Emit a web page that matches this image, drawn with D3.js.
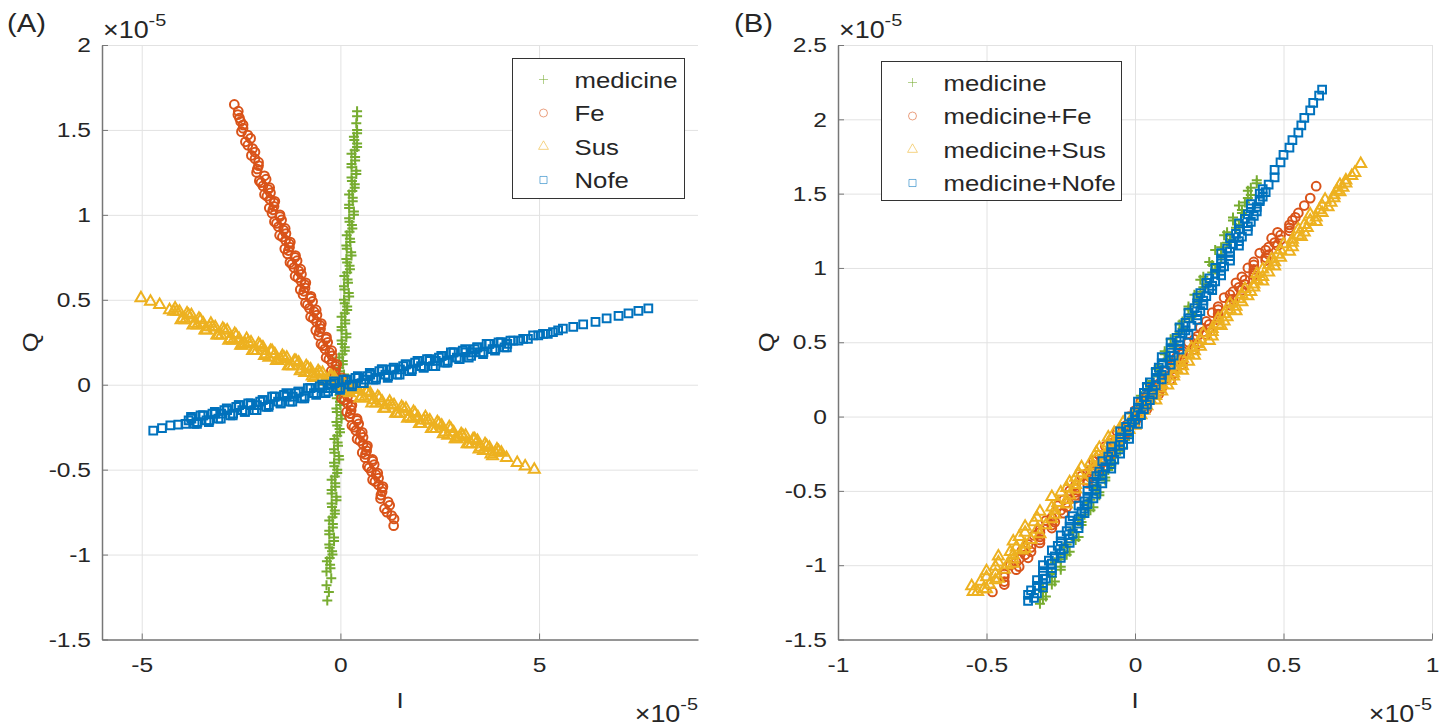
<!DOCTYPE html>
<html>
<head>
<meta charset="utf-8">
<script src="https://cdn.jsdelivr.net/npm/d3@7"></script>
<style>
body { margin: 0; background: #fff; }
svg { display: block; }
</style>
</head>
<body>
<svg id="chart" width="1447" height="728"></svg>
<script>
// values, in units of 1e-5 : [I, Q]
// panel A
const medA = [[-0.33,-1.27],[-0.29,-1.22],[-0.35,-1.18],[-0.23,-1.14],[-0.35,-1.10],[-0.26,-1.06],[-0.27,-1.02],[-0.21,-0.98],[-0.28,-0.94],[-0.16,-0.90],[-0.28,-0.86],[-0.19,-0.82],[-0.20,-0.78],[-0.14,-0.74],[-0.22,-0.70],[-0.10,-0.66],[-0.22,-0.62],[-0.13,-0.58],[-0.14,-0.54],[-0.08,-0.50],[-0.16,-0.46],[-0.04,-0.42],[-0.16,-0.38],[-0.07,-0.34],[-0.08,-0.30],[-0.02,-0.26],[-0.10,-0.22],[0.02,-0.18],[-0.10,-0.14],[-0.01,-0.10],[-0.02,-0.06],[0.05,-0.02],[-0.04,0.02],[0.09,0.06],[-0.03,0.10],[0.06,0.14],[0.05,0.18],[0.11,0.22],[0.03,0.26],[0.15,0.30],[0.03,0.34],[0.12,0.38],[0.11,0.42],[0.17,0.46],[0.09,0.50],[0.21,0.54],[0.09,0.58],[0.18,0.62],[0.17,0.66],[0.23,0.70],[0.15,0.74],[0.27,0.78],[0.15,0.82],[0.24,0.86],[0.23,0.90],[0.29,0.94],[0.22,0.98],[0.34,1.02],[0.22,1.06],[0.31,1.10],[0.30,1.14],[0.36,1.18],[0.28,1.22],[0.40,1.26],[0.28,1.30],[0.37,1.34],[0.36,1.38],[0.42,1.42],[0.34,1.46],[0.42,1.50],[0.40,1.54],[0.42,1.58],[0.42,1.61]];
const medA2 = [[-0.25,-1.08],[-0.34,-1.04],[-0.20,-1.00],[-0.27,-0.96],[-0.16,-0.92],[-0.28,-0.88],[-0.19,-0.84],[-0.28,-0.80],[-0.14,-0.76],[-0.21,-0.72],[-0.10,-0.68],[-0.22,-0.64],[-0.13,-0.60],[-0.22,-0.56],[-0.08,-0.52],[-0.15,-0.48],[-0.03,-0.44],[-0.15,-0.40],[-0.06,-0.36],[-0.15,-0.32],[-0.01,-0.28],[-0.08,-0.24],[0.03,-0.20],[-0.09,-0.16],[0.00,-0.12],[-0.09,-0.08],[0.05,-0.04],[-0.02,0.00],[0.09,0.04],[-0.03,0.08],[0.06,0.12],[-0.03,0.16],[0.11,0.20],[0.04,0.24],[0.15,0.28],[0.03,0.32],[0.12,0.36],[0.03,0.40],[0.17,0.44],[0.11,0.48],[0.22,0.52],[0.10,0.56],[0.19,0.60],[0.10,0.64],[0.24,0.68],[0.17,0.72],[0.28,0.76],[0.16,0.80],[0.25,0.84],[0.16,0.88],[0.30,0.92],[0.23,0.96],[0.34,1.00],[0.22,1.04],[0.31,1.08],[0.22,1.12],[0.36,1.16],[0.29,1.20],[0.40,1.24],[0.28,1.28],[0.37,1.32],[0.28,1.36],[0.42,1.40],[0.35,1.44],[0.42,1.48]];
const feA = [[1.34,-0.83],[1.35,-0.79],[1.17,-0.75],[1.24,-0.71],[1.01,-0.67],[1.05,-0.63],[0.96,-0.59],[0.96,-0.55],[0.78,-0.51],[0.85,-0.47],[0.62,-0.43],[0.66,-0.39],[0.57,-0.35],[0.57,-0.31],[0.39,-0.27],[0.46,-0.23],[0.23,-0.19],[0.27,-0.15],[0.18,-0.11],[0.18,-0.07],[0.00,-0.03],[0.07,0.01],[-0.16,0.05],[-0.12,0.09],[-0.21,0.13],[-0.21,0.17],[-0.39,0.21],[-0.32,0.25],[-0.55,0.29],[-0.50,0.33],[-0.60,0.37],[-0.59,0.41],[-0.78,0.45],[-0.70,0.49],[-0.94,0.53],[-0.89,0.57],[-0.99,0.61],[-0.98,0.65],[-1.17,0.69],[-1.09,0.73],[-1.33,0.77],[-1.28,0.81],[-1.38,0.85],[-1.37,0.89],[-1.56,0.93],[-1.48,0.97],[-1.72,1.01],[-1.67,1.05],[-1.77,1.09],[-1.76,1.13],[-1.95,1.17],[-1.87,1.21],[-2.11,1.25],[-2.06,1.29],[-2.15,1.33],[-2.15,1.37],[-2.33,1.41],[-2.26,1.45],[-2.49,1.49],[-2.45,1.53],[-2.54,1.57],[-2.57,1.61],[-2.67,1.65]];
const feA2 = [[1.29,-0.77],[1.11,-0.73],[1.20,-0.69],[1.02,-0.65],[1.05,-0.61],[0.87,-0.57],[0.90,-0.53],[0.72,-0.49],[0.81,-0.45],[0.63,-0.41],[0.66,-0.37],[0.49,-0.33],[0.51,-0.29],[0.34,-0.25],[0.42,-0.21],[0.25,-0.17],[0.27,-0.13],[0.10,-0.09],[0.12,-0.05],[-0.05,-0.01],[0.03,0.03],[-0.14,0.07],[-0.12,0.11],[-0.29,0.15],[-0.27,0.19],[-0.44,0.23],[-0.36,0.27],[-0.53,0.31],[-0.51,0.35],[-0.68,0.39],[-0.66,0.43],[-0.83,0.47],[-0.75,0.51],[-0.92,0.55],[-0.90,0.59],[-1.07,0.63],[-1.05,0.67],[-1.22,0.71],[-1.14,0.75],[-1.31,0.79],[-1.29,0.83],[-1.46,0.87],[-1.43,0.91],[-1.61,0.95],[-1.52,0.99],[-1.70,1.03],[-1.67,1.07],[-1.85,1.11],[-1.82,1.15],[-2.00,1.19],[-1.91,1.23],[-2.09,1.27],[-2.06,1.31],[-2.24,1.35],[-2.21,1.39],[-2.39,1.43],[-2.33,1.47],[-2.45,1.51],[-2.51,1.55],[-2.58,1.59]];
const feA3 = [[1.07,-0.60],[0.81,-0.56],[0.94,-0.52],[0.68,-0.48],[0.81,-0.44],[0.55,-0.40],[0.68,-0.36],[0.42,-0.32],[0.55,-0.28],[0.29,-0.24],[0.42,-0.20],[0.16,-0.16],[0.29,-0.12],[0.03,-0.08],[0.17,-0.04],[-0.10,0.00],[0.04,0.04],[-0.23,0.08],[-0.09,0.12],[-0.36,0.16],[-0.22,0.20],[-0.49,0.24],[-0.35,0.28],[-0.62,0.32],[-0.48,0.36],[-0.75,0.40],[-0.61,0.44],[-0.88,0.48],[-0.74,0.52],[-1.01,0.56],[-0.87,0.60],[-1.14,0.64],[-1.00,0.68],[-1.27,0.72],[-1.13,0.76],[-1.40,0.80],[-1.26,0.84],[-1.53,0.88],[-1.39,0.92],[-1.66,0.96],[-1.52,1.00],[-1.79,1.04],[-1.65,1.08],[-1.91,1.12],[-1.78,1.16],[-2.04,1.20]];
const susA = [[-5.02,0.51],[-4.78,0.49],[-4.55,0.47],[-4.30,0.44],[-4.20,0.43],[-4.05,0.43],[-3.90,0.38],[-3.75,0.41],[-3.60,0.35],[-3.45,0.36],[-3.30,0.34],[-3.15,0.34],[-3.00,0.29],[-2.85,0.32],[-2.70,0.26],[-2.55,0.27],[-2.40,0.24],[-2.25,0.25],[-2.10,0.20],[-1.95,0.22],[-1.80,0.16],[-1.65,0.18],[-1.50,0.15],[-1.35,0.16],[-1.20,0.11],[-1.05,0.13],[-0.90,0.07],[-0.75,0.09],[-0.60,0.06],[-0.45,0.07],[-0.30,0.02],[-0.15,0.04],[0.00,-0.02],[0.15,-0.01],[0.30,-0.03],[0.45,-0.03],[0.60,-0.08],[0.75,-0.05],[0.90,-0.11],[1.05,-0.10],[1.20,-0.12],[1.35,-0.12],[1.50,-0.17],[1.65,-0.14],[1.80,-0.20],[1.95,-0.19],[2.10,-0.21],[2.25,-0.21],[2.40,-0.26],[2.55,-0.24],[2.70,-0.30],[2.85,-0.28],[3.00,-0.31],[3.15,-0.30],[3.30,-0.35],[3.45,-0.33],[3.60,-0.39],[3.75,-0.37],[3.90,-0.40],[4.05,-0.40],[4.18,-0.43],[4.45,-0.46],[4.65,-0.48],[4.88,-0.50]];
const susA2 = [[-4.12,0.43],[-3.97,0.39],[-3.82,0.41],[-3.67,0.36],[-3.52,0.38],[-3.37,0.32],[-3.22,0.34],[-3.07,0.29],[-2.92,0.32],[-2.77,0.27],[-2.62,0.29],[-2.47,0.23],[-2.32,0.25],[-2.17,0.20],[-2.02,0.23],[-1.87,0.18],[-1.72,0.20],[-1.57,0.14],[-1.42,0.16],[-1.27,0.11],[-1.12,0.14],[-0.97,0.09],[-0.82,0.10],[-0.67,0.04],[-0.52,0.07],[-0.37,0.02],[-0.22,0.05],[-0.07,0.00],[0.08,0.01],[0.23,-0.05],[0.38,-0.02],[0.53,-0.07],[0.68,-0.04],[0.83,-0.09],[0.98,-0.08],[1.13,-0.14],[1.28,-0.12],[1.43,-0.17],[1.58,-0.14],[1.73,-0.19],[1.88,-0.17],[2.03,-0.23],[2.18,-0.21],[2.33,-0.26],[2.48,-0.23],[2.63,-0.28],[2.78,-0.26],[2.93,-0.32],[3.08,-0.30],[3.23,-0.35],[3.38,-0.32],[3.53,-0.37],[3.68,-0.36],[3.83,-0.42],[3.98,-0.39]];
const susA3 = [[-4.16,0.45],[-4.01,0.38],[-3.86,0.42],[-3.71,0.35],[-3.56,0.39],[-3.41,0.32],[-3.26,0.36],[-3.11,0.29],[-2.96,0.33],[-2.81,0.26],[-2.66,0.30],[-2.51,0.23],[-2.36,0.27],[-2.21,0.20],[-2.06,0.24],[-1.91,0.17],[-1.76,0.20],[-1.61,0.14],[-1.46,0.17],[-1.31,0.11],[-1.16,0.14],[-1.01,0.08],[-0.86,0.11],[-0.71,0.05],[-0.56,0.08],[-0.41,0.02],[-0.26,0.05],[-0.11,-0.01],[0.04,0.02],[0.19,-0.04],[0.34,-0.01],[0.49,-0.08],[0.64,-0.04],[0.79,-0.11],[0.94,-0.07],[1.09,-0.14],[1.24,-0.10],[1.39,-0.17],[1.54,-0.13],[1.69,-0.20],[1.84,-0.16],[1.99,-0.23],[2.14,-0.19],[2.29,-0.26],[2.44,-0.22],[2.59,-0.29],[2.74,-0.25],[2.89,-0.32],[3.04,-0.29],[3.19,-0.35],[3.34,-0.32],[3.49,-0.38],[3.64,-0.35],[3.79,-0.41],[3.94,-0.38]];
const nofeA = [[-4.71,-0.27],[-4.49,-0.255],[-4.28,-0.24],[-4.08,-0.235],[-3.90,-0.23],[-3.75,-0.20],[-3.60,-0.22],[-3.45,-0.18],[-3.30,-0.21],[-3.15,-0.17],[-3.00,-0.17],[-2.85,-0.15],[-2.70,-0.17],[-2.55,-0.12],[-2.40,-0.16],[-2.25,-0.12],[-2.10,-0.12],[-1.95,-0.09],[-1.80,-0.12],[-1.65,-0.07],[-1.50,-0.11],[-1.35,-0.07],[-1.20,-0.07],[-1.05,-0.04],[-0.90,-0.07],[-0.75,-0.02],[-0.60,-0.05],[-0.45,-0.02],[-0.30,-0.02],[-0.15,0.01],[0.00,-0.02],[0.15,0.03],[0.30,0.00],[0.45,0.04],[0.60,0.03],[0.75,0.06],[0.90,0.04],[1.05,0.09],[1.20,0.05],[1.35,0.09],[1.50,0.09],[1.65,0.12],[1.80,0.09],[1.95,0.14],[2.10,0.10],[2.25,0.14],[2.40,0.14],[2.55,0.17],[2.70,0.14],[2.85,0.19],[3.00,0.15],[3.15,0.19],[3.30,0.19],[3.45,0.22],[3.60,0.19],[3.75,0.24],[3.90,0.21],[4.05,0.25],[4.20,0.24],[4.35,0.26],[4.60,0.27],[4.85,0.29],[5.10,0.30],[5.35,0.31],[5.60,0.33],[5.86,0.34],[6.11,0.355],[6.42,0.37],[6.70,0.39],[7.00,0.405],[7.25,0.42],[7.50,0.435],[7.75,0.45]];
const nofeA2 = [[-3.82,-0.21],[-3.67,-0.23],[-3.52,-0.18],[-3.37,-0.21],[-3.22,-0.17],[-3.07,-0.20],[-2.92,-0.15],[-2.77,-0.18],[-2.62,-0.13],[-2.47,-0.15],[-2.32,-0.11],[-2.17,-0.15],[-2.02,-0.10],[-1.87,-0.13],[-1.72,-0.07],[-1.57,-0.10],[-1.42,-0.06],[-1.27,-0.10],[-1.12,-0.05],[-0.97,-0.08],[-0.82,-0.02],[-0.67,-0.05],[-0.52,-0.01],[-0.37,-0.05],[-0.22,0.00],[-0.07,-0.02],[0.08,0.03],[0.23,0.00],[0.38,0.04],[0.53,0.01],[0.68,0.05],[0.83,0.03],[0.98,0.08],[1.13,0.06],[1.28,0.09],[1.43,0.06],[1.58,0.11],[1.73,0.08],[1.88,0.13],[2.03,0.11],[2.18,0.15],[2.33,0.11],[2.48,0.16],[2.63,0.13],[2.78,0.19],[2.93,0.16],[3.08,0.20],[3.23,0.16],[3.38,0.21],[3.53,0.19],[3.68,0.24],[3.83,0.21],[3.98,0.25],[4.13,0.22],[4.28,0.26],[4.48,0.26],[4.72,0.27],[4.98,0.29],[5.22,0.30],[5.48,0.32]];
const nofeA3 = [[-3.76,-0.19],[-3.61,-0.23],[-3.46,-0.18],[-3.31,-0.22],[-3.16,-0.16],[-3.01,-0.20],[-2.86,-0.14],[-2.71,-0.18],[-2.56,-0.12],[-2.41,-0.16],[-2.26,-0.11],[-2.11,-0.15],[-1.96,-0.09],[-1.81,-0.13],[-1.66,-0.07],[-1.51,-0.11],[-1.36,-0.05],[-1.21,-0.10],[-1.06,-0.04],[-0.91,-0.08],[-0.76,-0.02],[-0.61,-0.06],[-0.46,0.00],[-0.31,-0.04],[-0.16,0.02],[-0.01,-0.03],[0.14,0.03],[0.29,-0.01],[0.44,0.05],[0.59,0.01],[0.74,0.07],[0.89,0.03],[1.04,0.09],[1.19,0.04],[1.34,0.10],[1.49,0.06],[1.64,0.12],[1.79,0.08],[1.94,0.14],[2.09,0.10],[2.24,0.15],[2.39,0.11],[2.54,0.17],[2.69,0.13],[2.84,0.19],[2.99,0.15],[3.14,0.21],[3.29,0.17],[3.44,0.22],[3.59,0.18],[3.74,0.24],[3.89,0.20],[4.04,0.25],[4.19,0.22]];

// panel B
const medB = [[-0.32,-1.26],[-0.30,-1.21],[-0.31,-1.16],[-0.27,-1.11],[-0.28,-1.06],[-0.25,-1.01],[-0.25,-0.96],[-0.22,-0.91],[-0.23,-0.86],[-0.19,-0.81],[-0.21,-0.76],[-0.18,-0.71],[-0.17,-0.66],[-0.14,-0.61],[-0.15,-0.56],[-0.12,-0.51],[-0.13,-0.46],[-0.10,-0.41],[-0.09,-0.36],[-0.07,-0.31],[-0.07,-0.26],[-0.04,-0.21],[-0.05,-0.16],[-0.02,-0.11],[-0.02,-0.06],[0.01,-0.01],[0.00,0.04],[0.04,0.09],[0.02,0.14],[0.05,0.19],[0.06,0.24],[0.09,0.29],[0.08,0.34],[0.11,0.39],[0.10,0.44],[0.13,0.49],[0.14,0.54],[0.16,0.59],[0.16,0.64],[0.19,0.69],[0.18,0.74],[0.21,0.79],[0.22,0.84],[0.24,0.89],[0.23,0.94],[0.27,0.99],[0.25,1.04],[0.29,1.09],[0.29,1.14],[0.32,1.19],[0.31,1.24],[0.35,1.29],[0.33,1.34],[0.36,1.39],[0.37,1.44],[0.39,1.49],[0.39,1.54],[0.41,1.59]];
const medB2 = [[-0.31,-1.23],[-0.31,-1.18],[-0.28,-1.13],[-0.28,-1.08],[-0.25,-1.03],[-0.27,-0.98],[-0.23,-0.93],[-0.24,-0.88],[-0.20,-0.83],[-0.21,-0.78],[-0.18,-0.73],[-0.19,-0.68],[-0.15,-0.63],[-0.16,-0.58],[-0.12,-0.53],[-0.13,-0.48],[-0.10,-0.43],[-0.11,-0.38],[-0.08,-0.33],[-0.08,-0.28],[-0.05,-0.23],[-0.05,-0.18],[-0.02,-0.13],[-0.03,-0.08],[0.00,-0.03],[-0.01,0.02],[0.03,0.07],[0.02,0.12],[0.05,0.17],[0.04,0.22],[0.08,0.27],[0.07,0.32],[0.11,0.37],[0.10,0.42],[0.13,0.47],[0.12,0.52],[0.15,0.57],[0.15,0.62],[0.19,0.67],[0.18,0.72],[0.21,0.77],[0.20,0.82],[0.23,0.87],[0.22,0.92],[0.26,0.97],[0.26,1.02],[0.29,1.07],[0.27,1.12],[0.31,1.17],[0.30,1.22],[0.34,1.27],[0.33,1.32],[0.36,1.37],[0.35,1.42],[0.38,1.47],[0.38,1.52],[0.41,1.57]];
const feB = [[-0.48,-1.18],[-0.44,-1.13],[-0.44,-1.08],[-0.40,-1.03],[-0.40,-0.98],[-0.37,-0.93],[-0.35,-0.88],[-0.32,-0.83],[-0.32,-0.78],[-0.28,-0.73],[-0.28,-0.68],[-0.25,-0.63],[-0.23,-0.58],[-0.20,-0.53],[-0.20,-0.48],[-0.16,-0.43],[-0.16,-0.38],[-0.13,-0.33],[-0.11,-0.28],[-0.08,-0.23],[-0.08,-0.18],[-0.04,-0.13],[-0.04,-0.08],[-0.01,-0.03],[0.01,0.02],[0.04,0.07],[0.04,0.12],[0.08,0.17],[0.08,0.22],[0.11,0.27],[0.13,0.32],[0.16,0.37],[0.16,0.42],[0.20,0.47],[0.20,0.52],[0.23,0.57],[0.25,0.62],[0.28,0.67],[0.28,0.72],[0.32,0.77],[0.32,0.82],[0.35,0.87],[0.37,0.92],[0.40,0.97],[0.40,1.02],[0.44,1.07],[0.44,1.12],[0.47,1.17],[0.49,1.22],[0.52,1.27],[0.53,1.32],[0.55,1.37],[0.57,1.42],[0.59,1.47],[0.61,1.55]];
const feB2 = [[-0.44,-1.11],[-0.44,-1.06],[-0.39,-1.01],[-0.39,-0.96],[-0.35,-0.91],[-0.36,-0.86],[-0.32,-0.81],[-0.32,-0.76],[-0.27,-0.71],[-0.27,-0.66],[-0.23,-0.61],[-0.24,-0.56],[-0.20,-0.51],[-0.20,-0.46],[-0.15,-0.41],[-0.15,-0.36],[-0.11,-0.31],[-0.12,-0.26],[-0.08,-0.21],[-0.08,-0.16],[-0.03,-0.11],[-0.03,-0.06],[0.01,-0.01],[0.00,0.04],[0.04,0.09],[0.04,0.14],[0.09,0.19],[0.09,0.24],[0.13,0.29],[0.12,0.34],[0.16,0.39],[0.16,0.44],[0.21,0.49],[0.21,0.54],[0.25,0.59],[0.24,0.64],[0.28,0.69],[0.28,0.74],[0.33,0.79],[0.33,0.84],[0.37,0.89],[0.36,0.94],[0.40,0.99],[0.40,1.04],[0.45,1.09],[0.45,1.14],[0.49,1.19],[0.48,1.24],[0.52,1.29],[0.54,1.34]];
const feB3 = [[-0.42,-1.00],[-0.36,-0.95],[-0.38,-0.90],[-0.32,-0.85],[-0.34,-0.80],[-0.28,-0.75],[-0.30,-0.70],[-0.24,-0.65],[-0.26,-0.60],[-0.20,-0.55],[-0.22,-0.50],[-0.16,-0.45],[-0.18,-0.40],[-0.12,-0.35],[-0.14,-0.30],[-0.08,-0.25],[-0.10,-0.20],[-0.04,-0.15],[-0.06,-0.10],[0.00,-0.05],[-0.02,0.00],[0.04,0.05],[0.02,0.10],[0.08,0.15],[0.06,0.20],[0.12,0.25],[0.10,0.30],[0.16,0.35],[0.14,0.40],[0.20,0.45],[0.18,0.50],[0.24,0.55],[0.22,0.60],[0.28,0.65],[0.26,0.70],[0.32,0.75],[0.30,0.80],[0.36,0.85],[0.34,0.90],[0.40,0.95],[0.38,1.00],[0.44,1.05],[0.42,1.10],[0.48,1.15],[0.46,1.20],[0.52,1.25]];
const susB = [[-0.545,-1.18],[-0.53,-1.18],[-0.51,-1.16],[-0.49,-1.13],[-0.50,-1.08],[-0.47,-1.10],[-0.44,-1.03],[-0.46,-0.98],[-0.43,-1.00],[-0.41,-0.93],[-0.40,-0.88],[-0.38,-0.90],[-0.35,-0.83],[-0.37,-0.78],[-0.30,-0.73],[-0.33,-0.68],[-0.27,-0.63],[-0.26,-0.58],[-0.22,-0.53],[-0.23,-0.48],[-0.17,-0.43],[-0.19,-0.38],[-0.14,-0.33],[-0.13,-0.28],[-0.09,-0.23],[-0.09,-0.18],[-0.05,-0.13],[-0.05,-0.08],[-0.01,-0.03],[0.01,0.02],[0.04,0.07],[0.05,0.12],[0.09,0.17],[0.09,0.22],[0.13,0.27],[0.14,0.32],[0.18,0.37],[0.18,0.42],[0.22,0.47],[0.22,0.52],[0.26,0.57],[0.28,0.62],[0.31,0.67],[0.32,0.72],[0.36,0.77],[0.36,0.82],[0.40,0.87],[0.41,0.92],[0.45,0.97],[0.45,1.02],[0.49,1.07],[0.49,1.12],[0.53,1.17],[0.55,1.22],[0.58,1.27],[0.59,1.32],[0.63,1.37],[0.63,1.42],[0.67,1.47],[0.68,1.52],[0.71,1.57],[0.73,1.62],[0.76,1.70]];
const susB2 = [[-0.50,-1.16],[-0.52,-1.11],[-0.47,-1.06],[-0.47,-1.01],[-0.41,-0.96],[-0.42,-0.91],[-0.37,-0.86],[-0.39,-0.81],[-0.33,-0.76],[-0.34,-0.71],[-0.27,-0.66],[-0.28,-0.61],[-0.23,-0.56],[-0.25,-0.51],[-0.20,-0.46],[-0.20,-0.41],[-0.14,-0.36],[-0.15,-0.31],[-0.10,-0.26],[-0.12,-0.21],[-0.06,-0.16],[-0.07,-0.11],[0.00,-0.06],[-0.01,-0.01],[0.03,0.04],[0.03,0.09],[0.07,0.14],[0.08,0.19],[0.12,0.24],[0.13,0.29],[0.16,0.34],[0.16,0.39],[0.20,0.44],[0.21,0.49],[0.26,0.54],[0.26,0.59],[0.30,0.64],[0.30,0.69],[0.34,0.74],[0.35,0.79],[0.39,0.84],[0.40,0.89],[0.43,0.94],[0.43,0.99],[0.47,1.04],[0.48,1.09],[0.53,1.14],[0.53,1.19],[0.57,1.24],[0.57,1.29],[0.61,1.34],[0.62,1.39],[0.66,1.44],[0.67,1.49],[0.70,1.54],[0.71,1.59],[0.74,1.64]];
const susB3 = [[-0.55,-1.14],[-0.46,-1.09],[-0.50,-1.04],[-0.41,-0.99],[-0.46,-0.94],[-0.37,-0.89],[-0.41,-0.84],[-0.32,-0.79],[-0.37,-0.74],[-0.28,-0.69],[-0.32,-0.64],[-0.23,-0.59],[-0.28,-0.54],[-0.20,-0.49],[-0.22,-0.44],[-0.15,-0.39],[-0.18,-0.34],[-0.11,-0.29],[-0.13,-0.24],[-0.06,-0.19],[-0.09,-0.14],[-0.02,-0.09],[-0.04,-0.04],[0.02,0.01],[0.01,0.06],[0.07,0.11],[0.05,0.16],[0.11,0.21],[0.10,0.26],[0.16,0.31],[0.14,0.36],[0.20,0.41],[0.19,0.46],[0.25,0.51],[0.23,0.56],[0.29,0.61],[0.28,0.66],[0.34,0.71],[0.32,0.76],[0.38,0.81],[0.37,0.86],[0.43,0.91],[0.41,0.96],[0.47,1.01],[0.46,1.06],[0.52,1.11],[0.50,1.16],[0.56,1.21],[0.55,1.26],[0.61,1.31],[0.59,1.36],[0.65,1.41],[0.64,1.46],[0.69,1.51],[0.69,1.56]];
const nofeB = [[-0.36,-1.24],[-0.33,-1.19],[-0.33,-1.14],[-0.30,-1.09],[-0.31,-1.04],[-0.28,-0.99],[-0.27,-0.94],[-0.24,-0.89],[-0.25,-0.84],[-0.21,-0.79],[-0.22,-0.74],[-0.19,-0.69],[-0.18,-0.64],[-0.16,-0.59],[-0.16,-0.54],[-0.13,-0.49],[-0.14,-0.44],[-0.11,-0.39],[-0.10,-0.34],[-0.07,-0.29],[-0.08,-0.24],[-0.04,-0.19],[-0.05,-0.14],[-0.02,-0.09],[-0.01,-0.04],[0.02,0.01],[0.01,0.06],[0.05,0.11],[0.03,0.16],[0.07,0.21],[0.07,0.26],[0.10,0.31],[0.09,0.36],[0.13,0.41],[0.12,0.46],[0.15,0.51],[0.16,0.56],[0.19,0.61],[0.18,0.66],[0.22,0.71],[0.21,0.76],[0.24,0.81],[0.25,0.86],[0.27,0.91],[0.27,0.96],[0.30,1.01],[0.29,1.06],[0.32,1.11],[0.33,1.16],[0.36,1.21],[0.35,1.26],[0.39,1.31],[0.38,1.36],[0.41,1.41],[0.42,1.46],[0.44,1.51],[0.45,1.56],[0.47,1.61],[0.47,1.66],[0.49,1.71],[0.50,1.76],[0.52,1.81],[0.53,1.86],[0.55,1.91],[0.56,1.96],[0.57,2.01],[0.59,2.06],[0.60,2.11],[0.62,2.16],[0.63,2.20]];
const nofeB2 = [[-0.34,-1.22],[-0.35,-1.17],[-0.31,-1.12],[-0.31,-1.07],[-0.28,-1.02],[-0.29,-0.97],[-0.25,-0.92],[-0.26,-0.87],[-0.22,-0.82],[-0.23,-0.77],[-0.19,-0.72],[-0.21,-0.67],[-0.17,-0.62],[-0.17,-0.57],[-0.13,-0.52],[-0.14,-0.47],[-0.11,-0.42],[-0.12,-0.37],[-0.08,-0.32],[-0.09,-0.27],[-0.05,-0.22],[-0.05,-0.17],[-0.02,-0.12],[-0.03,-0.07],[0.00,-0.02],[0.00,0.03],[0.04,0.08],[0.03,0.13],[0.06,0.18],[0.05,0.23],[0.09,0.28],[0.08,0.33],[0.12,0.38],[0.12,0.43],[0.15,0.48],[0.14,0.53],[0.17,0.58],[0.17,0.63],[0.21,0.68],[0.20,0.73],[0.23,0.78],[0.22,0.83],[0.26,0.88],[0.25,0.93],[0.29,0.98],[0.29,1.03],[0.32,1.08],[0.31,1.13],[0.35,1.18],[0.34,1.23],[0.38,1.28],[0.37,1.33],[0.41,1.38],[0.39,1.43],[0.43,1.48],[0.43,1.53]];
const nofeB3 = [[-0.36,-1.20],[-0.31,-1.15],[-0.33,-1.10],[-0.28,-1.05],[-0.31,-1.00],[-0.25,-0.95],[-0.28,-0.90],[-0.22,-0.85],[-0.25,-0.80],[-0.19,-0.75],[-0.22,-0.70],[-0.17,-0.65],[-0.19,-0.60],[-0.14,-0.55],[-0.16,-0.50],[-0.11,-0.45],[-0.13,-0.40],[-0.08,-0.35],[-0.11,-0.30],[-0.05,-0.25],[-0.08,-0.20],[-0.02,-0.15],[-0.05,-0.10],[0.01,-0.05],[-0.02,0.00],[0.03,0.05],[0.01,0.10],[0.06,0.15],[0.04,0.20],[0.09,0.25],[0.07,0.30],[0.12,0.35],[0.09,0.40],[0.15,0.45],[0.12,0.50],[0.18,0.55],[0.15,0.60],[0.21,0.65],[0.18,0.70],[0.23,0.75],[0.21,0.80],[0.26,0.85],[0.24,0.90],[0.29,0.95],[0.27,1.00],[0.32,1.05],[0.29,1.10],[0.35,1.15],[0.32,1.20],[0.38,1.25],[0.35,1.30],[0.40,1.35],[0.39,1.40],[0.42,1.45],[0.42,1.50]];

const xTicksA = [-5, 0, 5];
const yTicksA = [-1.5, -1, -0.5, 0, 0.5, 1, 1.5, 2];
const xTicksB = [-1, -0.5, 0, 0.5, 1];
const yTicksB = [-1.5, -1, -0.5, 0, 0.5, 1, 1.5, 2, 2.5];
const legendA = ["medicine", "Fe", "Sus", "Nofe"];
const legendB = ["medicine", "medicine+Fe", "medicine+Sus", "medicine+Nofe"];

const colors = ["#77AC30", "#D95319", "#EDB120", "#0072BD"];
const FONT = "'Liberation Sans', Arial, sans-serif";
const SX = 1.17; // the picture is a bit stretched sideways

const svg = d3.select("#chart");

// marker shapes, matlab style: + o ^ square
const shapes = [
  "M-5,0H5M0,-5V5",
  d3.symbol(d3.symbolCircle, 60)(),
  d3.symbol(d3.symbolTriangle, 52)(),
  d3.symbol(d3.symbolSquare, 60)()
];
const legendShapes = [
  "M-4.5,0H4.5M0,-4.5V4.5",
  d3.symbol(d3.symbolCircle, 50)(),
  d3.symbol(d3.symbolTriangle, 42)(),
  d3.symbol(d3.symbolSquare, 50)()
];

function txt(x, y, s, size, anchor) {
  return svg.append("text")
    .attr("transform", `translate(${x},${y}) scale(${SX},1)`)
    .attr("text-anchor", anchor || "start")
    .attr("font-family", FONT)
    .attr("font-size", size)
    .attr("fill", "#262626")
    .text(s);
}

function expLabel(x, y, anchor) {
  const t = txt(x, y, "×10", 23, anchor);
  t.append("tspan").attr("dy", -12).attr("font-size", 17).text("-5");
}

function panel(o) {
  const x = d3.scaleLinear().domain(o.xDomain).range([o.left, o.right]);
  const y = d3.scaleLinear().domain(o.yDomain).range([o.bottom, o.top]);
  const h = o.bottom - o.top, w = o.right - o.left;

  // grid
  svg.append("g").attr("transform", `translate(0,${o.bottom})`)
    .call(d3.axisBottom(x).tickValues(o.xTicks).tickSize(-h).tickFormat(""))
    .call(g => g.select(".domain").remove())
    .selectAll("line").attr("stroke", "#e2e2e2");
  svg.append("g").attr("transform", `translate(${o.left},0)`)
    .call(d3.axisLeft(y).tickValues(o.yTicks).tickSize(-w).tickFormat(""))
    .call(g => g.select(".domain").remove())
    .selectAll("line").attr("stroke", "#e2e2e2");

  // points, in plotting order so the last series sits on top
  o.series.forEach((pts, i) => {
    svg.append("g").selectAll("path").data(pts).join("path")
      .attr("transform", d => `translate(${x(d[0])},${y(d[1])})`)
      .attr("d", shapes[i])
      .attr("fill", "none")
      .attr("stroke", colors[i])
      .attr("stroke-width", 2);
  });

  // axes
  const xa = svg.append("g").attr("transform", `translate(0,${o.bottom})`)
    .call(d3.axisBottom(x).tickValues(o.xTicks).tickSizeInner(-6).tickSizeOuter(0)
      .tickPadding(18).tickFormat(d => String(d)));
  const ya = svg.append("g").attr("transform", `translate(${o.left},0)`)
    .call(d3.axisLeft(y).tickValues(o.yTicks).tickSizeInner(-6).tickSizeOuter(0)
      .tickPadding(11 / SX).tickFormat(d => String(d)));
  [xa, ya].forEach(a => {
    a.attr("font-family", FONT).attr("font-size", 21);
    a.select(".domain").attr("stroke", "#777").attr("stroke-width", 1.5);
    a.selectAll(".tick line").attr("stroke", "#777");
    a.selectAll(".tick text").attr("fill", "#262626").attr("transform", `scale(${SX},1)`);
  });

  // axis titles
  txt((o.left + o.right) / 2, 708, "I", 22, "middle");
  svg.append("text")
    .attr("transform", `translate(${o.left - 64},${(o.top + o.bottom) / 2}) rotate(-90) scale(${SX},1)`)
    .attr("text-anchor", "middle")
    .attr("font-family", FONT).attr("font-size", 22).attr("fill", "#262626")
    .text("Q");

  expLabel(o.left + 1, 38, "start");
  expLabel(o.right, 722, "end");
  txt(o.tagX, 32, o.tag, 25, "start");

  // legend
  const lg = o.legend;
  svg.append("rect").attr("x", lg.x).attr("y", lg.y).attr("width", lg.w).attr("height", lg.h)
    .attr("fill", "#fff").attr("stroke", "#333").attr("stroke-width", 1);
  lg.labels.forEach((s, i) => {
    const cy = lg.y + 21 + i * 33.5;
    svg.append("path").attr("transform", `translate(${lg.x + 31},${cy})`)
      .attr("d", legendShapes[i]).attr("fill", "none")
      .attr("stroke", colors[i]).attr("stroke-width", 1).attr("opacity", 0.55);
    txt(lg.x + 62, cy + 8, s, 22, "start");
  });
}

panel({
  left: 102, right: 698, top: 45, bottom: 639.5,
  xDomain: [-6, 9], yDomain: [-1.5, 2],
  xTicks: xTicksA, yTicks: yTicksA,
  series: [medA.concat(medA2), feA.concat(feA2, feA3), susA.concat(susA2, susA3), nofeA.concat(nofeA2, nofeA3)],
  legend: { x: 512.5, y: 58.5, w: 172, h: 140, labels: legendA },
  tag: "(A)", tagX: 7
});

panel({
  left: 838, right: 1432, top: 45, bottom: 639.5,
  xDomain: [-1, 1], yDomain: [-1.5, 2.5],
  xTicks: xTicksB, yTicks: yTicksB,
  series: [medB.concat(medB2), feB.concat(feB2, feB3), susB.concat(susB2, susB3), nofeB.concat(nofeB2, nofeB3)],
  legend: { x: 881.5, y: 61.5, w: 240, h: 139, labels: legendB },
  tag: "(B)", tagX: 734
});
</script>
</body>
</html>
